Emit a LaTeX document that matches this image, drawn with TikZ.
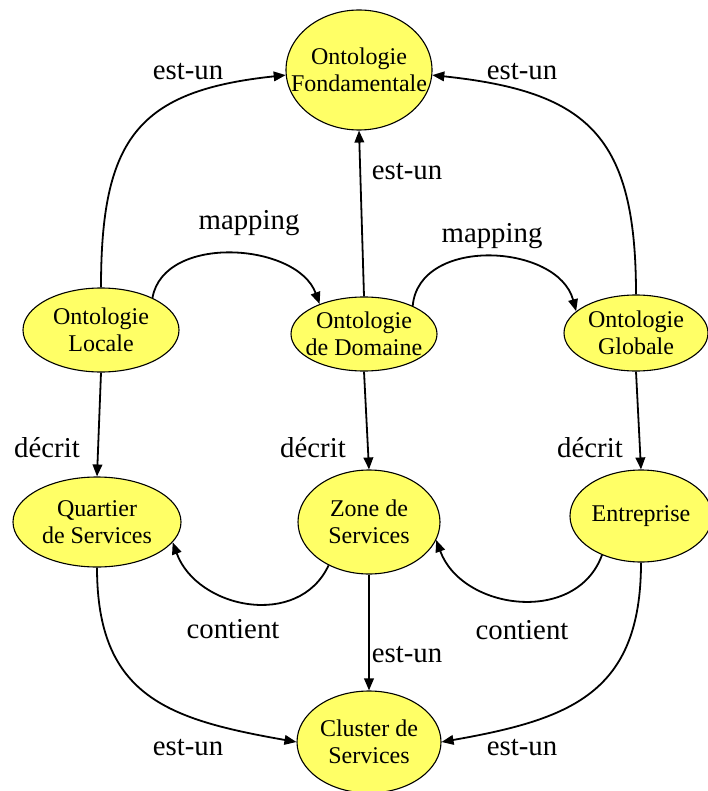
\documentclass[tikz,border=0pt]{standalone}
\usepackage{fontspec}
\setmainfont{Liberation Serif}
\usetikzlibrary{shapes.geometric,arrows.meta}
\definecolor{OntoYellow}{RGB}{255,255,102}

\begin{document}
\begin{tikzpicture}[
x=0.5pt,y=-0.5pt,
onto/.style={ellipse,draw=black,fill=OntoYellow,line width=0.55pt,inner sep=0pt},
ontotxt/.style={align=center,inner sep=0pt,font=\rmfamily\fontsize{12}{13.5}\selectfont},
rel/.style={-{Triangle[length=6pt,width=4.8pt]},line width=0.9pt},
rellbl/.style={inner sep=0pt,font=\rmfamily\fontsize{14.4}{17}\selectfont}
]
\useasboundingbox (0,0) rectangle (707,791);
\node[onto,minimum width=73pt,minimum height=60pt,label={[ontotxt]center:Ontologie\\Fondamentale}] (fond) at (359,70) {};
\node[onto,minimum width=78pt,minimum height=42pt,label={[ontotxt]center:Ontologie\\Locale}] (loc) at (101,330) {};
\node[onto,minimum width=73pt,minimum height=37pt,label={[ontotxt]center:Ontologie\\de Domaine}] (dom) at (364,334) {};
\node[onto,minimum width=72pt,minimum height=38pt,label={[ontotxt]center:Ontologie\\Globale}] (glob) at (636,333) {};
\node[onto,minimum width=84pt,minimum height=45pt,label={[ontotxt]center:Quartier\\de Services}] (quart) at (97,522) {};
\node[onto,minimum width=71pt,minimum height=52pt,label={[ontotxt]center:Zone de\\Services}] (zone) at (369,522) {};
\node[onto,minimum width=71pt,minimum height=46pt,label={[ontotxt]center:Entreprise}] (entr) at (641,516) {};
\node[onto,minimum width=72pt,minimum height=51pt,label={[ontotxt]center:Cluster de\\Services}] (clus) at (369,742) {};
\draw[rel] (loc.north) to[out=90,in=186,looseness=1.35] (fond.184);
\draw[rel] (glob.north) to[out=90,in=-6,looseness=1.35] (fond.-4);
\draw[rel] (dom.north)--(fond.south);
\draw[rel] (loc.32) to[out=80,in=110] (dom.146);
\draw[rel] (dom.30) to[out=85,in=105,looseness=1.1] (glob.160);
\draw[rel] (loc.south)--(quart.north); \draw[rel] (dom.south)--(zone.north); \draw[rel] (glob.south)--(entr.north);
\draw[rel] (zone.227) to[out=-115,in=-70,looseness=1.15] (quart.-15);
\draw[rel] (entr.225) to[out=-110,in=-70,looseness=1.15] (zone.-15);
\draw[rel] (zone.south)--(clus.north);
\draw[rel] (quart.south) to[out=-90,in=170,looseness=1.25] (clus.west);
\draw[rel] (entr.south) to[out=-90,in=10,looseness=1.25] (clus.east);
\node[rellbl] (l1) at (188,72) {est-un};
\node[rellbl] (l2) at (522,72) {est-un};
\node[rellbl] (l3) at (407,172) {est-un};
\node[rellbl] (l4) at (249,223) {mapping};
\node[rellbl] (l5) at (492,236) {mapping};
\node[rellbl] (l6) at (47,448) {décrit};
\node[rellbl] (l7) at (313,448) {décrit};
\node[rellbl] (l8) at (590,448) {décrit};
\node[rellbl] (l9) at (233,629) {contient};
\node[rellbl] (l10) at (522,630) {contient};
\node[rellbl] (l11) at (407,655) {est-un};
\node[rellbl] (l12) at (188,748) {est-un};
\node[rellbl] (l13) at (522,748) {est-un};
\end{tikzpicture}
\end{document}
